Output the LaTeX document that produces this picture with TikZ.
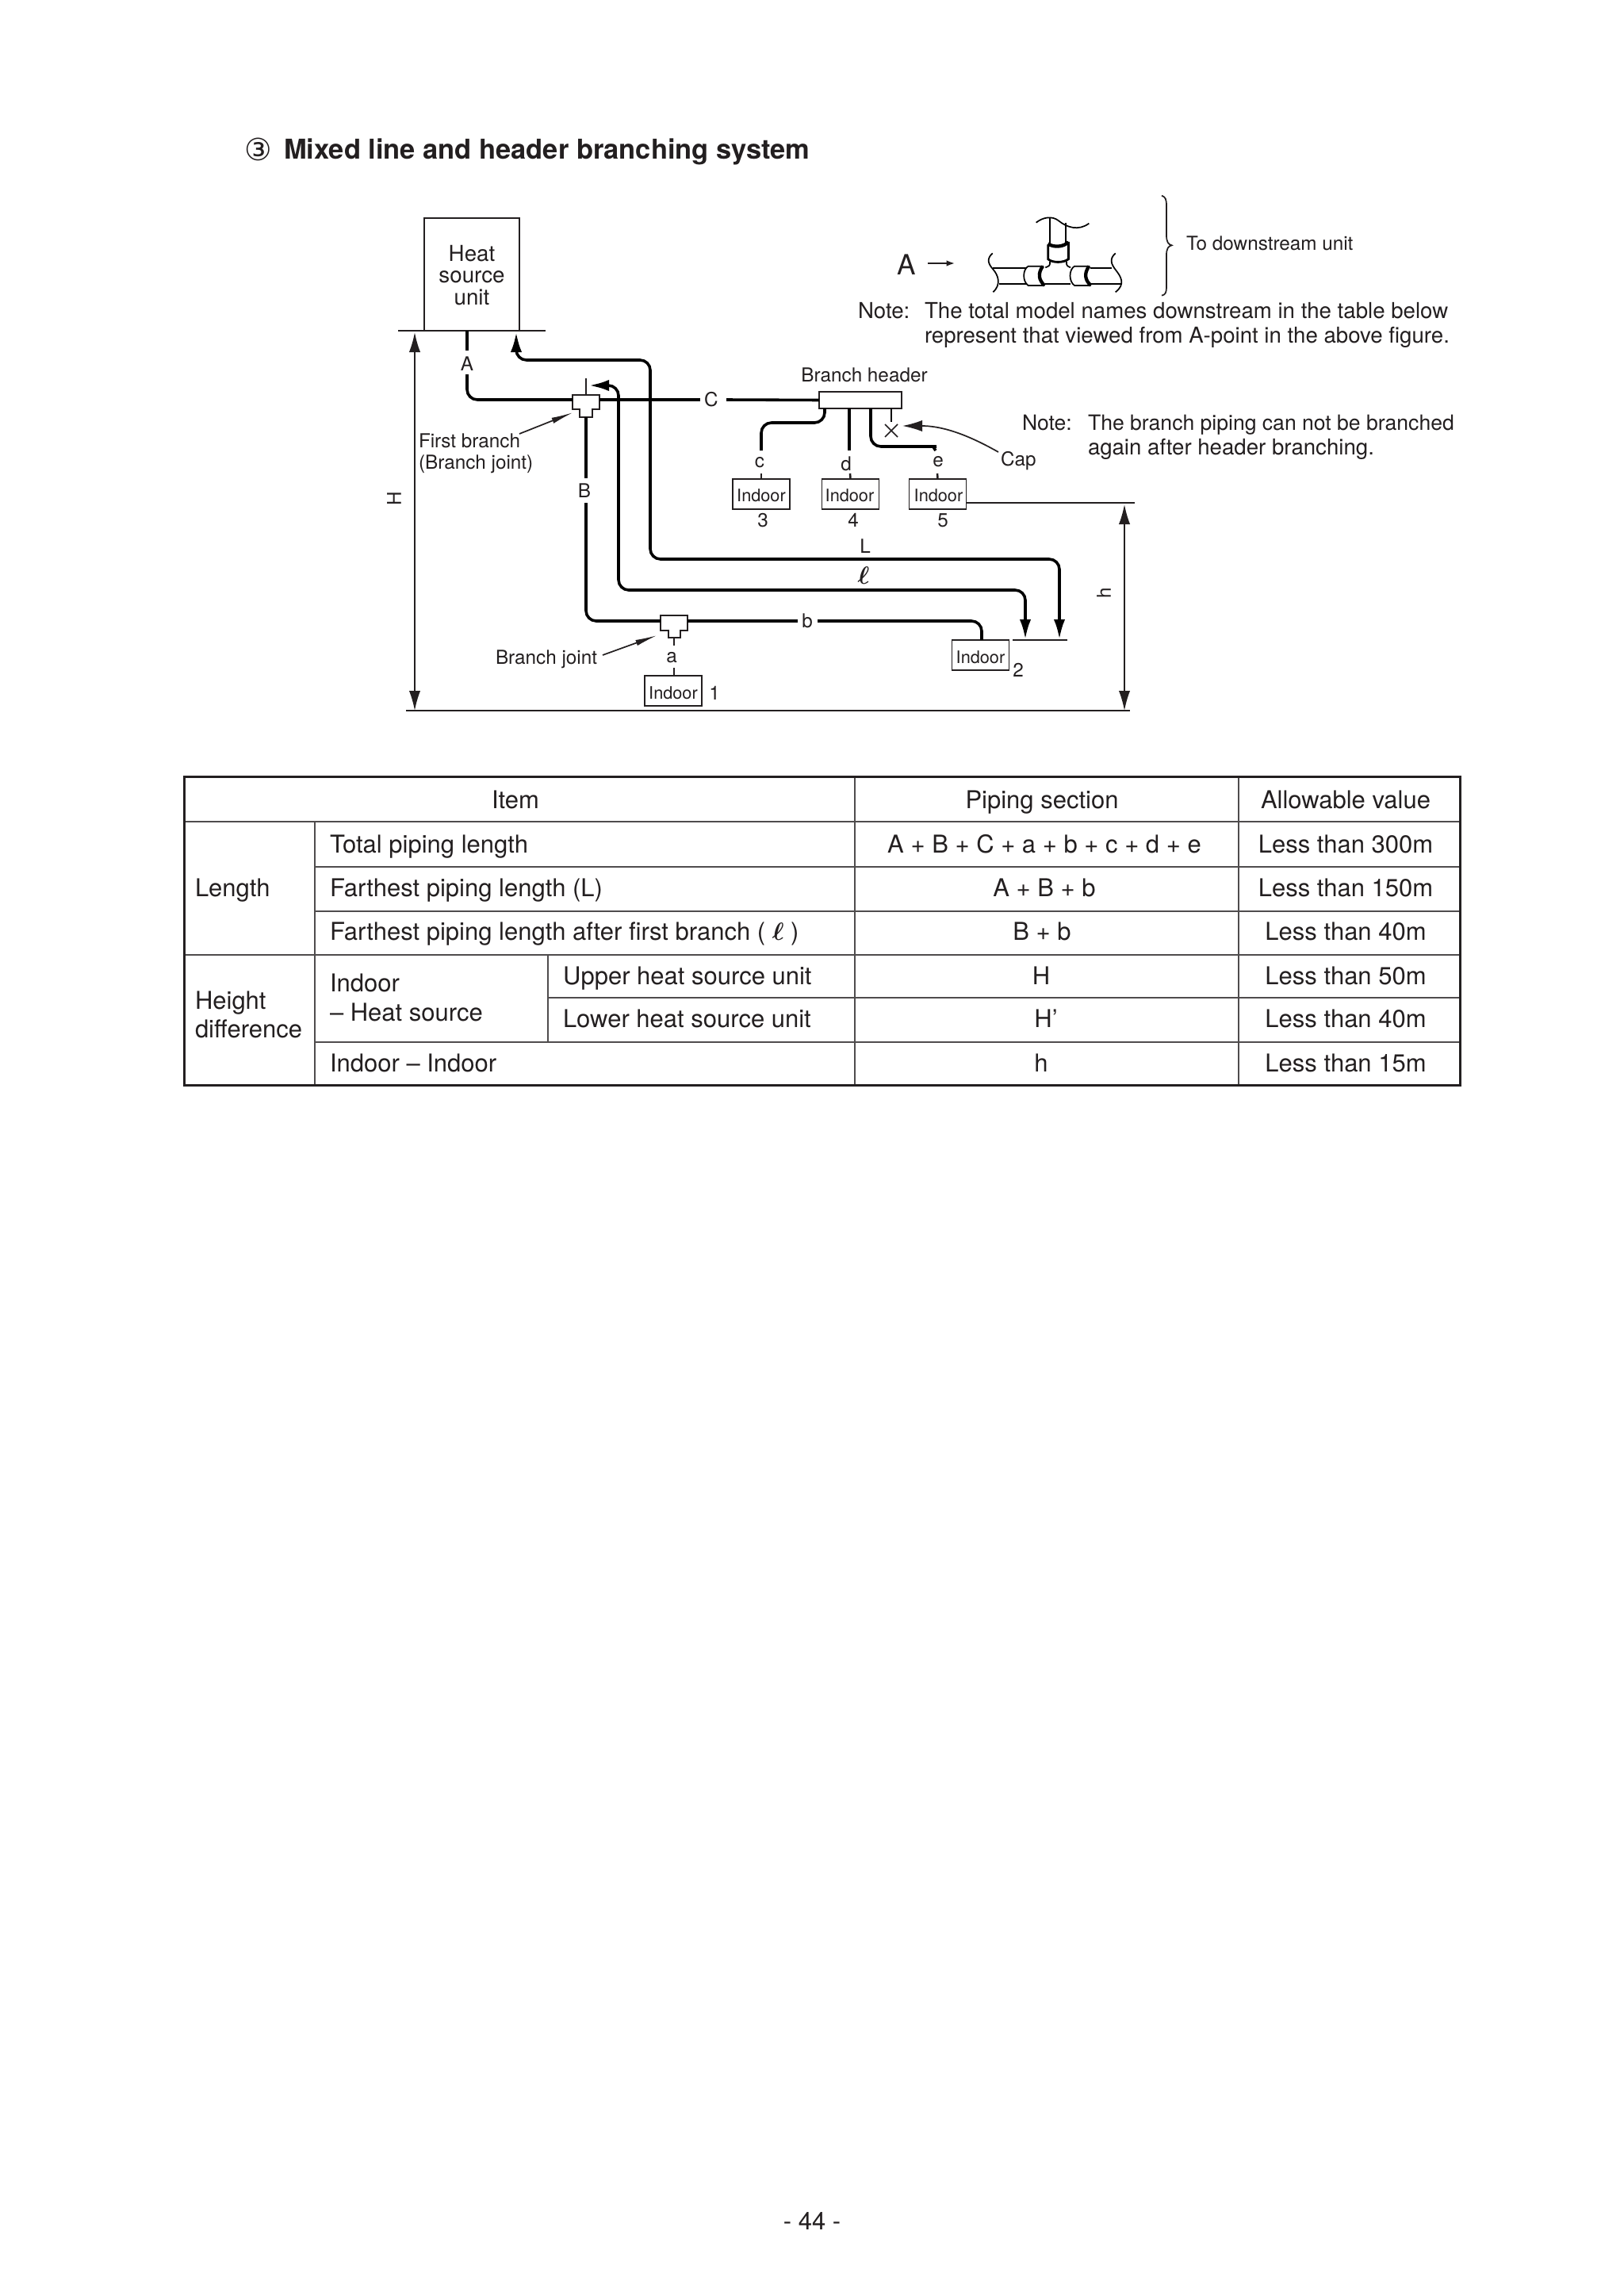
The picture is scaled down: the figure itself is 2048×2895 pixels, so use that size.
\documentclass[tikz,border=0pt]{standalone}
\usepackage{fontspec}
\setmainfont{TeX Gyre Heros}
\newfontfamily\symfont{DejaVu Sans}
\usetikzlibrary{arrows.meta}
\definecolor{ink}{HTML}{231F20}
\newcommand{\pxf}[1]{\fontsize{#1}{#1}\selectfont}
\tikzset{
  x=0.35pt,y=-0.35pt,
  every node/.style={inner sep=0pt,outer sep=0pt,text=ink},
  small/.style={font=\pxf{8.5pt},anchor=base},
  smallw/.style={font=\pxf{8.5pt},anchor=base west},
  indoorbox/.style={draw=ink,line width=0.6pt,fill=white,minimum width=25.2pt,minimum height=13.3pt},
  note/.style={font=\pxf{9.67pt},anchor=base west},
  noteb/.style={font=\pxf{9.3pt},anchor=base west},
  cell/.style={font=\pxf{10.85pt},anchor=base},
  cellw/.style={font=\pxf{10.85pt},anchor=base west},
  pipe/.style={draw=black,line width=1.25pt,rounded corners=4.5pt},
  thin/.style={draw=ink,line width=0.6pt},
  pipehead/.style={-{Latex[length=8.75pt,width=5pt]}},
  dimline/.style={thin,{Latex[length=8.75pt,width=5pt]}-{Latex[length=8.75pt,width=5pt]}},
  leader/.style={thin,-{Latex[length=9.8pt,width=2.6pt]}},
  tablethick/.style={draw=ink,line width=1.05pt},
  tablethin/.style={draw=ink!80,line width=0.5pt},
  fit/.style={draw=black,line width=0.6pt},
  fitthick/.style={draw=black,line width=1.5pt},
}
\begin{document}
\begin{tikzpicture}
\useasboundingbox (0,0) rectangle (2048,2895);
\fill[white] (0,0) rectangle (2048,2895);
% title
\node[anchor=base] (circ) at (326,203) {\symfont\pxf{13.5pt}③};
\node[anchor=base west,font=\bfseries\pxf{12.06pt}] (title) at (358,201) {Mixed line and header branching system};
% heat source unit
\draw[thin] (535,417) -- (535,275) -- (655,275) -- (655,417);
\node[anchor=base,font=\pxf{9.7pt}] (h1) at (595,330) {Heat};
\node[anchor=base,font=\pxf{9.7pt}] (h2) at (595,357) {source};
\node[anchor=base,font=\pxf{9.7pt}] (h3) at (595,384) {unit};
\coordinate (unitL) at (502,417);
\coordinate (unitR) at (688,417);
\draw[thin] (unitL) -- (unitR);
% joints
\coordinate (j1) at (739,498);
\coordinate (j2) at (850,776);
\draw[thin,fill=white] (722,498) -- (756,498) -- (756,516) -- (747,516) -- (747,526) -- (731,526) -- (731,516) -- (722,516) -- cycle;
\draw[thin,fill=white] (833,776) -- (867,776) -- (867,795) -- (858,795) -- (858,804) -- (843,804) -- (843,795) -- (833,795) -- cycle;
% indoor units
\node[indoorbox] (in3) at (960,623) {};
\node[indoorbox] (in4) at (1072.5,623) {};
\node[indoorbox] (in5) at (1182.5,623) {};
\node[indoorbox] (in1) at (849,871) {};
\node[indoorbox] (in2) at (1236.5,826) {};
\node[small,font=\pxf{7.6pt}] (t3) at (960,632) {Indoor};
\node[small,font=\pxf{7.6pt}] (t4) at (1071.5,632) {Indoor};
\node[small,font=\pxf{7.6pt}] (t5) at (1183.5,632) {Indoor};
\node[small,font=\pxf{7.6pt}] (t1) at (849,881) {Indoor};
\node[small,font=\pxf{7.6pt}] (t2) at (1236.5,836) {Indoor};
\node[small] (n3) at (962,664) {3};
\node[small] (n4) at (1076,664) {4};
\node[small] (n5) at (1189,664) {5};
\node[small] (n1) at (901,882) {1};
\node[small] (n2) at (1284,853) {2};
% header
\node[draw=ink,line width=0.6pt,fill=white,minimum width=36.4pt,minimum height=7.35pt] (hdr) at (1085,504.5) {};
\node[small] (hdrt) at (1090,481) {Branch header};
% labels on pipes
\node[small] (lA) at (589,467) {A};
\node[small] (lB) at (737,627) {B};
\node[small] (lC) at (897,512) {C};
\node[small] (lb) at (1018,791) {b};
\node[small] (la) at (847,835) {a};
\node[small] (lc) at (958,589) {c};
\node[small] (ld) at (1067,593) {d};
\node[small] (le) at (1183,588) {e};
\node[small] (lL) at (1091,697) {L};
\node[anchor=base,font=\pxf{10.5pt}\boldmath] (lell) at (1089,736) {$\ell$};
% pipes
\draw[pipe] (589,417) -- (589,442);
\draw[pipe] (589,472) -- (589,504) -- (722,504);
\draw[pipe] (756,504) -- (883,504);
\draw[pipe] (916,504) -- (hdr.west);
\draw[pipe] (739,526) -- (739,603);
\draw[pipe] (739,634) -- (739,783) -- (833,783);
\draw[pipe] (867,783) -- (1006,783);
\draw[pipe] (1031,783) -- (1238,783) -- (1238,807);
\draw[thin,line width=0.9pt] (j1) -- (739,477);
\draw[pipe,pipehead] (780,520) -- (780,486) -- (743,486);
\draw[pipe,pipehead] (780,520) -- (780,744) -- (1293,744) -- (1293,806);
\draw[pipe,pipehead] (820,520) -- (820,454) -- (651,454) -- (651,419);
\draw[pipe,pipehead] (820,520) -- (820,705) -- (1336,705) -- (1336,806);
\draw[pipe] (1040,515) -- (1040,533) -- (960,533) -- (960,568);
\draw[pipe] (1071,515) -- (1071,568);
\draw[pipe] (1098,515) -- (1098,563) -- (1168,563) .. controls (1175,563) and (1178,565) .. (1180,568);
\draw[line width=1pt,draw=black] (1124,515) -- (1124,532);
\draw[thin,line width=0.9pt] (850,804) -- (850,814);
\draw[thin,line width=0.9pt] (850,842) -- (850,852);
\draw[thin,line width=0.9pt] (960,597) -- (in3.north);
\draw[thin,line width=0.9pt] (1072,597) -- (in4.north);
\draw[thin,line width=0.9pt] (1182,597) -- (in5.north);
% cap
\coordinate (capc) at (1124,543);
\draw[thin] (1116,535) -- (1132,551) (1132,535) -- (1116,551);
\node[smallw] (cap) at (1262,587) {Cap};
\draw[thin,-{Latex[length=8.75pt,width=5pt]}] (1259,570) .. controls (1215,545) and (1185,537) .. (1138,537);
% leaders
\node[smallw] (fb1) at (528,564) {First branch};
\node[smallw] (fb2) at (528,591) {(Branch joint)};
\node[smallw] (bj) at (625,837) {Branch joint};
\draw[leader] (655,547) -- (723,520);
\draw[leader] (760,826) -- (829,801);
% dimensions
\coordinate (botL) at (512,896);
\coordinate (botR) at (1425,896);
\draw[thin,line width=0.75pt] (botL) -- (botR);
\draw[thin] (1277,807) -- (1346,807);
\draw[thin] (in5.east |- 0,634) -- (1431,634);
\draw[dimline] (523,419) -- (523,896);
\draw[dimline] (1418,636) -- (1418,896);
\node[rotate=90,font=\pxf{8.5pt}] (lH) at (497,629) {H};
\node[rotate=90,font=\pxf{8.5pt}] (lh) at (1392,748) {h};
% A view
\node[anchor=base,font=\pxf{12.3pt}] (bigA) at (1143,347) {A};
\draw[thin,-{Latex[length=3.6pt,width=2.6pt]}] (1170,332) -- (1204,332);
\begin{scope}[shift={(1100,230)},scale=1/3]
\draw[fit] (672,135) -- (672,232);
\draw[fit] (733,152) -- (733,228);
\draw[fit] (620,152) .. controls (645,132) and (680,125) .. (705,145) .. controls (735,170) and (780,185) .. (820,155);
\draw[fit,line width=1pt] (665,235) -- (665,290) .. controls (680,305) and (725,305) .. (742,290) -- (742,225);
\draw[fitthick] (665,232) .. controls (685,247) and (725,245) .. (742,225);
\draw[fit] (672,300) .. controls (672,315) .. (655,322);
\draw[fit] (735,300) .. controls (735,315) .. (750,322);
\draw[fit] (455,325) -- (582,325);
\draw[fit] (480,383) -- (582,383);
\draw[fit] (655,383) -- (750,383);
\draw[fit] (825,325) -- (905,325);
\draw[fit] (825,383) -- (945,383);
\draw[fit] (455,268) .. controls (430,290) and (440,310) .. (458,330) .. controls (475,350) and (490,385) .. (457,415);
\draw[fit] (920,268) .. controls (895,290) and (905,310) .. (920,330) .. controls (940,355) and (960,385) .. (920,415);
\draw[fit] (648,317) -- (590,317) .. controls (568,330) and (568,375) .. (590,390) -- (652,390);
\draw[fitthick] (645,317) .. controls (625,345) and (630,370) .. (652,390);
\draw[fit] (823,317) -- (765,317) .. controls (743,330) and (743,375) .. (765,390) -- (827,390);
\draw[fitthick] (820,317) .. controls (800,345) and (805,370) .. (827,390);
\draw[thin] (1095,50) .. controls (1110,55) and (1113,65) .. (1113,90) -- (1113,200) .. controls (1113,225) and (1120,235) .. (1133,238) .. controls (1120,241) and (1113,250) .. (1113,275) -- (1113,395) .. controls (1113,415) and (1110,425) .. (1095,428);
\end{scope}
\node[smallw] (down) at (1496,316) {To downstream unit};
% notes
\node[note] (nt1) at (1082,401) {Note:};
\node[note] (nt2) at (1166,401) {The total model names downstream in the table below};
\node[note] (nt3) at (1166,432) {represent that viewed from A-point in the above figure.};
\node[noteb] (nt4) at (1289,542) {Note:};
\node[noteb] (nt5) at (1372,542) {The branch piping can not be branched};
\node[note] (nt6) at (1372,573) {again after header branching.};
% table
\draw[tablethin] (232,1036) -- (1841,1036);
\draw[tablethin] (397,1093) -- (1841,1093);
\draw[tablethin] (397,1149) -- (1841,1149);
\draw[tablethin] (232,1204) -- (1841,1204);
\draw[tablethin] (691,1258) -- (1841,1258);
\draw[tablethin] (397,1314) -- (1841,1314);
\draw[tablethin] (397,1036) -- (397,1368);
\draw[tablethin] (691,1204) -- (691,1314);
\draw[tablethin] (1078,979) -- (1078,1368);
\draw[tablethin] (1562,979) -- (1562,1368);
\draw[tablethick] (232,979) rectangle (1841,1368);
\node[cell] (c01) at (650,1019) {Item};
\node[cell] (c02) at (1314,1019) {Piping section};
\node[cell] (c03) at (1697,1019) {Allowable value};
\node[cellw] (c10) at (246,1130) {Length};
\node[cellw] (c11) at (416,1075) {Total piping length};
\node[cellw] (c12) at (416,1130) {Farthest piping length (L)};
\node[cellw,font=\pxf{10.85pt}\boldmath] (c13) at (416,1185) {Farthest piping length after first branch ( $\ell$ )};
\node[cell] (c14) at (1317,1075) {A + B + C + a + b + c + d + e};
\node[cell] (c15) at (1317,1130) {A + B + b};
\node[cell] (c16) at (1314,1185) {B + b};
\node[cell] (c17) at (1697,1075) {Less than 300m};
\node[cell] (c18) at (1697,1130) {Less than 150m};
\node[cell] (c19) at (1697,1185) {Less than 40m};
\node[cellw] (c20) at (246,1272) {Height};
\node[cellw] (c21) at (246,1308) {difference};
\node[cellw] (c22) at (416,1250) {Indoor};
\node[cellw] (c23) at (416,1287) {– Heat source};
\node[cellw] (c24) at (710,1241) {Upper heat source unit};
\node[cellw] (c25) at (710,1295) {Lower heat source unit};
\node[cellw] (c26) at (416,1351) {Indoor – Indoor};
\node[cell] (c27) at (1313,1241) {H};
\node[cell] (c28) at (1319,1295) {H’};
\node[cell] (c29) at (1313,1351) {h};
\node[cell] (c30) at (1697,1241) {Less than 50m};
\node[cell] (c31) at (1697,1295) {Less than 40m};
\node[cell] (c32) at (1697,1351) {Less than 15m};
% page number
\node[cell] (pg) at (1024,2811) {- 44 -};
\end{tikzpicture}
\end{document}
